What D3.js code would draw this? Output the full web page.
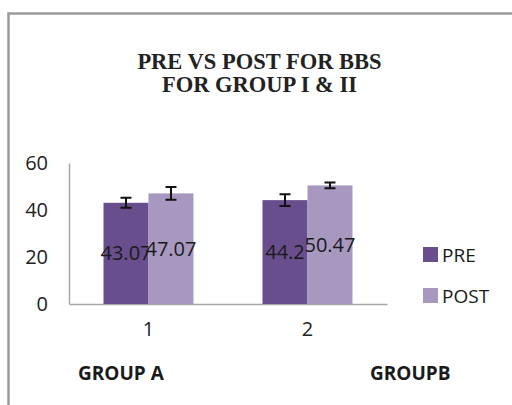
<!DOCTYPE html>
<html lang="en">
<head>
<meta charset="UTF-8">
<title>PRE VS POST FOR BBS</title>
<style>
    body { margin: 0; background: #fff; }
    .axis path, .axis line { stroke: #a6a6a6; }
    .axis text { font-family: "Open Sans", sans-serif; font-size: 20px; fill: #222; }
</style>
</head>
<body>
<svg width="512" height="405"></svg>
<script src="https://d3js.org/d3.v7.min.js"></script>
<script>
    // data
    var groups = ["1", "2"];
    var groupNames = ["GROUP A", "GROUPB"];
    var series = ["PRE", "POST"];
    var preValues = [43.07, 44.2];
    var postValues = [47.07, 50.47];
    var preErr = [2.1, 2.5];
    var postErr = [2.7, 1.2];
    var yTicks = [0, 20, 40, 60];
    var colors = ["#684e8d", "#a898c0"];

    var svg = d3.select("svg");
    var plotLeft = 69, plotRight = 387, plotTop = 163, plotBottom = 304;

    // outer frame (cropped on the right and bottom)
    svg.append("path")
        .attr("d", "M8.5,420V13.5H530")
        .attr("fill", "none")
        .attr("stroke", "#9a9a9a")
        .attr("stroke-width", 2.5);

    // title
    var title = svg.append("text")
        .attr("text-anchor", "middle")
        .attr("font-family", "'Liberation Serif', serif")
        .attr("font-weight", "bold")
        .attr("font-size", 22.5)
        .attr("fill", "#222");
    title.append("tspan").attr("x", 259.5).attr("y", 69).text("PRE VS POST FOR BBS");
    title.append("tspan").attr("x", 259.5).attr("y", 92).text("FOR GROUP I & II");

    var x0 = d3.scaleBand().domain(groups).range([plotLeft, plotRight]);
    var x1 = d3.scaleBand().domain(series).range([0, x0.bandwidth()]).paddingOuter(0.767);
    var y = d3.scaleLinear().domain([0, 60]).range([plotBottom, plotTop]);

    var data = groups.map(function (g, i) {
        return [
            { group: g, key: "PRE", value: preValues[i], err: preErr[i], color: colors[0] },
            { group: g, key: "POST", value: postValues[i], err: postErr[i], color: colors[1] }
        ];
    });

    // y axis
    var yAxis = svg.append("g")
        .attr("class", "axis")
        .attr("transform", "translate(" + plotLeft + ",0)")
        .call(d3.axisLeft(y).tickValues(yTicks).tickSize(0).tickPadding(21));
    yAxis.select(".domain").attr("stroke-width", 1.5);

    // x axis
    var xAxis = svg.append("g")
        .attr("class", "axis")
        .attr("transform", "translate(0," + plotBottom + ")")
        .call(d3.axisBottom(x0).tickSize(0).tickPadding(18));
    xAxis.select(".domain").attr("stroke-width", 1.5);
    xAxis.selectAll("text").attr("dy", "0.71em");

    var g = svg.selectAll(".grp")
        .data(data)
        .enter().append("g")
        .attr("class", "grp")
        .attr("transform", function (d) { return "translate(" + x0(d[0].group) + ",0)"; });

    var cell = g.selectAll(".cell")
        .data(function (d) { return d; })
        .enter().append("g")
        .attr("class", "cell");

    cell.append("rect")
        .attr("x", function (d) { return x1(d.key); })
        .attr("y", function (d) { return y(d.value); })
        .attr("width", x1.bandwidth())
        .attr("height", function (d) { return plotBottom - y(d.value); })
        .attr("fill", function (d) { return d.color; });

    // error bars
    var cx = function (d) { return x1(d.key) + x1.bandwidth() / 2; };
    cell.append("path")
        .attr("d", function (d) {
            var c = cx(d), a = y(d.value + d.err), b = y(d.value - d.err);
            return "M" + (c - 5.5) + "," + a + "H" + (c + 5.5) +
                "M" + c + "," + a + "V" + b +
                "M" + (c - 5.5) + "," + b + "H" + (c + 5.5);
        })
        .attr("fill", "none")
        .attr("stroke", "#111")
        .attr("stroke-width", 2);

    // value labels
    cell.append("text")
        .attr("x", cx)
        .attr("y", function (d) { return y(d.value / 2); })
        .attr("dy", "0.35em")
        .attr("text-anchor", "middle")
        .attr("font-family", "'Open Sans', sans-serif")
        .attr("font-size", 20)
        .attr("fill", "#1a1a1a")
        .text(function (d) { return d.value; });

    // group names under the axis
    svg.selectAll(".gname")
        .data(groupNames)
        .enter().append("text")
        .attr("class", "gname")
        .attr("x", function (d, i) { return i === 0 ? 78 : 370; })
        .attr("y", 380)
        .attr("font-family", "'Open Sans', sans-serif")
        .attr("font-weight", "bold")
        .attr("font-size", 19)
        .attr("fill", "#1a1a1a")
        .text(function (d) { return d; });

    // legend
    var legend = svg.selectAll(".legend")
        .data(series)
        .enter().append("g")
        .attr("class", "legend")
        .attr("transform", function (d, i) { return "translate(423," + (247 + i * 41) + ")"; });
    legend.append("rect")
        .attr("width", 15)
        .attr("height", 15)
        .attr("fill", function (d, i) { return colors[i]; });
    legend.append("text")
        .attr("x", 19)
        .attr("y", 15)
        .attr("font-family", "'Open Sans', sans-serif")
        .attr("font-size", 19)
        .attr("fill", "#1a1a1a")
        .text(function (d) { return d; });
</script>
</body>
</html>
